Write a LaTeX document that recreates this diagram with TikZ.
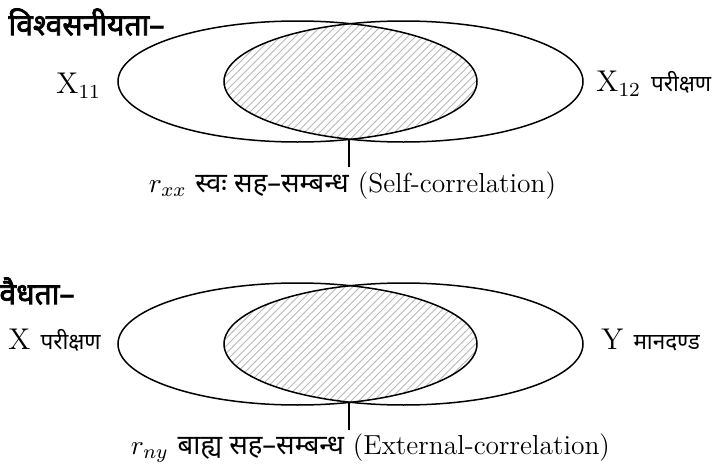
\documentclass[tikz,border=0pt]{standalone}
\usepackage{fontspec}
\newfontfamily\deva[Script=Devanagari]{Noto Sans}
\newfontfamily\devabold[Script=Devanagari, FakeBold=2.5]{Noto Sans}
\usetikzlibrary{patterns, calc}

\begin{document}
\begin{tikzpicture}[
  x=0.4pt, y=-0.4pt,
  every node/.style={font=\normalsize},
  venn/.style={draw, line width=0.6pt},
  hatch/.style={pattern=north east lines, pattern color=gray!55},
  heading/.style={anchor=west, inner sep=0pt, font=\devabold\large},
  side/.style={anchor=west, inner sep=0pt, font=\large},
  caption/.style={anchor=west, inner sep=1pt, font=\fontsize{11}{13}\selectfont},
  tick/.style={line width=0.5pt},
]
\useasboundingbox (0,0) rectangle (716,467);

% Reliability
\node[heading] (relhead) at (8,22) {विश्वसनीयता–};
\begin{scope}
  \clip (297.5,81.5) ellipse [x radius=179.5, y radius=60.5];
  \fill[hatch] (403.5,81.5) ellipse [x radius=179.5, y radius=60.5];
\end{scope}
\draw[venn] (297.5,81.5) ellipse [x radius=179.5, y radius=60.5];
\draw[venn] (403.5,81.5) ellipse [x radius=179.5, y radius=60.5];
\node[side] (xone) at (56,86) {X$_{11}$};
\node[side] (xtwo) at (596,84) {X$_{12}$\,\,{\deva\small परीक्षण}};
\coordinate (relcross) at (349,139);
\coordinate (relend) at (349,167);
\node[caption] (relcap) at (146,186) {$r_{xx}$ {\deva स्वः सह–सम्बन्ध} (Self-correlation)};
\draw[tick] (relcross) -- (relend);

% Validity
\node[heading] (valhead) at (-1,291) {वैधता–};
\begin{scope}
  \clip (297.5,344) ellipse [x radius=179.5, y radius=61];
  \fill[hatch] (403.5,344) ellipse [x radius=179.5, y radius=61];
\end{scope}
\draw[venn] (297.5,344) ellipse [x radius=179.5, y radius=61];
\draw[venn] (403.5,344) ellipse [x radius=179.5, y radius=61];
\node[side] (xtest) at (8,340) {X\,\,{\deva\small परीक्षण}};
\node[side] (ycrit) at (601,340) {Y\,\,{\deva\small मानदण्ड}};
\coordinate (valcross) at (349,402);
\coordinate (valend) at (349,430);
\node[caption] (valcap) at (128,448) {$r_{ny}$ {\deva बाह्य सह–सम्बन्ध} (External-correlation)};
\draw[tick] (valcross) -- (valend);

\end{tikzpicture}
\end{document}
